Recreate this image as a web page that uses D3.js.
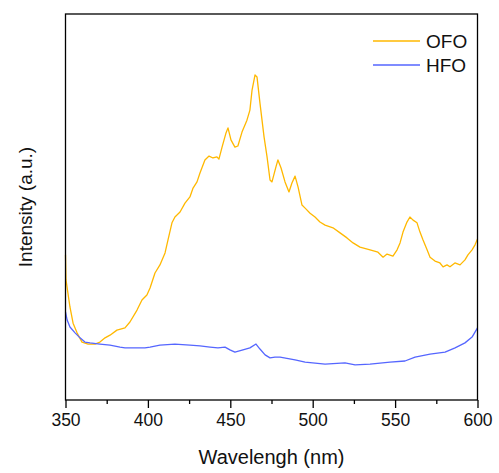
<!DOCTYPE html>
<html>
<head>
<meta charset="utf-8">
<script src="https://cdn.jsdelivr.net/npm/d3@7"></script>
<style>
  body { margin: 0; background: #fff; }
  svg { font-family: Arial, "Liberation Sans", sans-serif; }
</style>
</head>
<body>
<svg width="499" height="473"></svg>
<script>
// wavelength (nm) and intensity (a.u.)
var ofoWl = [350, 350.3, 352.7, 354.6, 357, 360, 363.7, 367.9, 370.9, 374, 377, 381.2, 386.1,
  389.1, 393.4, 396.4, 399.4, 401.3, 404.3, 407.3, 410.4, 412.2, 414.6, 416.4, 419.5, 422.5,
  425.5, 427.4, 429.8, 431.6, 434.6, 437.1, 439.5, 441.9, 443.1, 445, 447.4, 448.6, 450.4,
  452.8, 454.6, 457.1, 460.1, 461.9, 463.2, 465, 466.2, 468, 470.5, 472.3, 474.1, 475.3,
  477.7, 478.9, 480.8, 483.2, 485.6, 487.4, 489.3, 491.1, 493.5, 495.4, 498.4, 501.4, 504.4,
  507.5, 512.3, 516.6, 520.8, 524.5, 528.7, 534.8, 539.6, 542.7, 545.1, 548.7, 551.2, 553,
  554.8, 557.2, 559, 560.9, 563.3, 565.1, 566.9, 569.4, 571.2, 574.2, 577.2, 579.1, 581.5,
  583.3, 586.3, 589.4, 592.4, 594.2, 596.7, 598.5, 600]
var ofoI = [37.6, 31.1, 24.1, 19.9, 17.4, 15.0, 14.5, 14.5, 15.0, 16.1, 16.8, 18.1, 18.7,
  20.2, 23.3, 25.9, 27.2, 29.0, 32.9, 35.0, 38.1, 41.5, 45.9, 47.4, 48.7, 51.0,
  52.6, 54.9, 56.5, 58.8, 62.2, 63.2, 62.7, 63.0, 62.4, 65.5, 69.2, 70.5, 67.4,
  65.5, 65.8, 69.4, 72.5, 75.1, 80.3, 84.2, 83.7, 76.9, 68.1, 63.0, 57.0, 56.5,
  60.4, 62.2, 60.1, 56.5, 53.9, 56.2, 58.0, 55.2, 50.5, 49.7, 48.4, 47.4, 46.1,
  45.3, 44.6, 43.3, 42.0, 40.7, 39.6, 38.9, 38.3, 37.0, 37.8, 37.3, 38.9, 40.7,
  43.5, 46.1, 47.4, 46.6, 45.9, 43.5, 41.5, 38.9, 37.0, 36.0, 35.5, 34.5, 35.0,
  34.5, 35.5, 35.0, 36.3, 37.6, 38.9, 40.2, 41.7]

var hfoWl = [350, 351, 352.7, 355.8, 358.8, 361.8, 364.9, 370.9, 377, 383.1, 386.1, 392.2, 398.2,
  401.3, 407.3, 416.4, 425.5, 431.6, 437.7, 442.5, 446.8, 449.8, 452.8, 457.7, 461.9, 465.6,
  468, 471.1, 474.1, 477.1, 480.2, 489.3, 495.4, 507.5, 519.6, 525.7, 534.8, 546.9, 556,
  562.1, 571.2, 580.3, 586.4, 592.4, 596.7, 600]
var hfoI = [22.8, 20.7, 18.9, 17.4, 16.1, 15.0, 14.8, 14.5, 14.2, 13.7, 13.5, 13.5, 13.5,
  13.7, 14.2, 14.5, 14.2, 14.0, 13.7, 13.5, 13.7, 13.0, 12.4, 13.0, 13.5, 14.5,
  13.2, 11.7, 10.9, 11.1, 11.1, 10.4, 9.8, 9.3, 9.6, 9.1, 9.3, 9.8, 10.1,
  11.1, 11.9, 12.4, 13.5, 14.8, 16.3, 18.7]

var xTicks = [350, 400, 450, 500, 550, 600]
var seriesNames = ["OFO", "HFO"]
var colors = ["#FFB800", "#5566FF"]

var svg = d3.select("svg")
const m = {left: 65.5, right: 477.5, top: 14, bottom: 400}

var x = d3.scaleLinear().domain([350, 600]).range([m.left, m.right])
var y = d3.scaleLinear().domain([0, 100]).range([m.bottom, m.top])

var line = d3.line()
  .x(d => x(d[0]))
  .y(d => y(d[1]))

var series = [d3.zip(ofoWl, ofoI), d3.zip(hfoWl, hfoI)]

svg.append("g")
  .attr("fill", "none")
  .attr("stroke-width", 1.3)
  .attr("stroke-linejoin", "round")
  .selectAll("path")
  .data(series)
  .join("path")
  .attr("stroke", (d, i) => colors[i])
  .attr("d", line)

// frame
svg.append("rect")
  .attr("x", m.left).attr("y", m.top)
  .attr("width", m.right - m.left).attr("height", m.bottom - m.top)
  .attr("fill", "none").attr("stroke", "#000").attr("stroke-width", 1.3)

// minor ticks
svg.append("g")
  .attr("transform", `translate(0,${m.bottom})`)
  .call(d3.axisBottom(x).tickValues(d3.range(375, 600, 50)).tickSize(4).tickFormat(""))
  .call(g => g.select(".domain").remove())
  .call(g => g.selectAll("line").attr("stroke-width", 1.3))

var xAxis = svg.append("g")
  .attr("transform", `translate(0,${m.bottom})`)
  .call(d3.axisBottom(x).tickValues(xTicks).tickSize(8).tickPadding(6))
xAxis.select(".domain").remove()
xAxis.selectAll("line").attr("stroke-width", 1.3)
xAxis.selectAll("text")
  .attr("font-size", 17.5)
  .attr("font-family", "Arial, 'Liberation Sans', sans-serif")
  .attr("fill", "#111")

svg.append("text")
  .attr("x", (m.left + m.right) / 2)
  .attr("y", 464)
  .attr("text-anchor", "middle")
  .attr("font-size", 20)
  .attr("fill", "#111")
  .text("Wavelengh (nm)")

svg.append("text")
  .attr("transform", `translate(32,${(m.top + m.bottom) / 2}) rotate(-90)`)
  .attr("text-anchor", "middle")
  .attr("font-size", 19)
  .attr("fill", "#111")
  .text("Intensity (a.u.)")

// legend
var legend = svg.append("g")
  .selectAll("g")
  .data(seriesNames)
  .join("g")
  .attr("transform", (d, i) => `translate(373,${41 + i * 24})`)

legend.append("line")
  .attr("x1", 0).attr("x2", 47)
  .attr("stroke", (d, i) => colors[i])
  .attr("stroke-width", 1.3)

legend.append("text")
  .attr("x", 53)
  .attr("dy", "0.36em")
  .attr("font-size", 19)
  .attr("fill", "#111")
  .text(d => d)
</script>
</body>
</html>
